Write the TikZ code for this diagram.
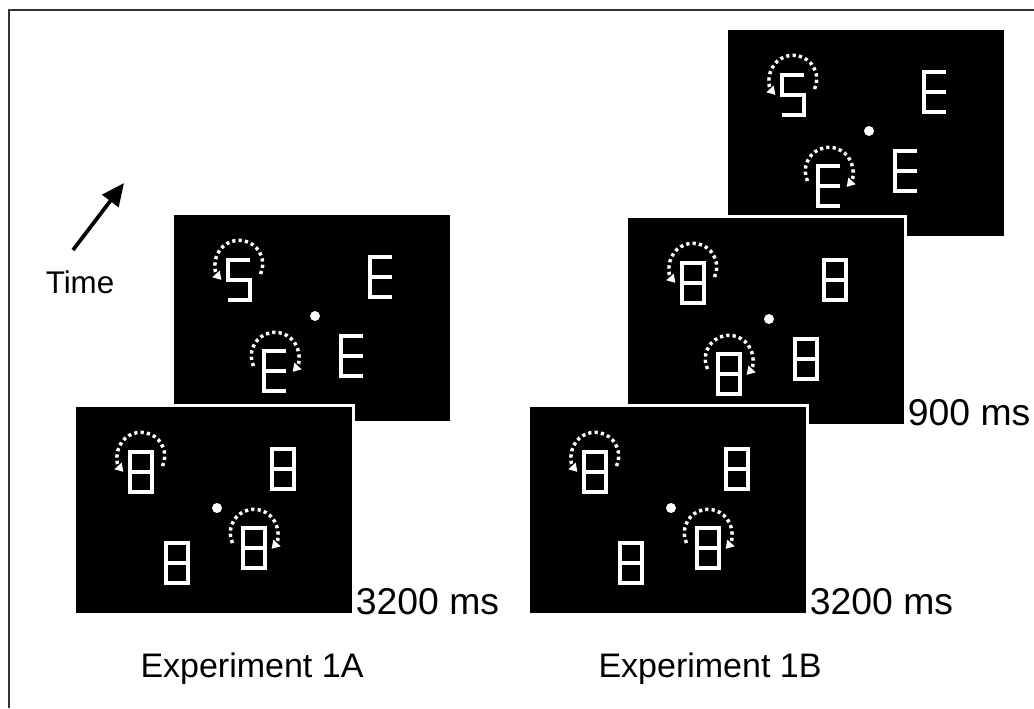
\documentclass[tikz,border=0pt]{standalone}
\usepackage{fontspec}
\setmainfont{Liberation Sans}
\usepackage{tikz}
\usetikzlibrary{arrows.meta, positioning}

\tikzset{
  screen/.style={fill=black, draw=white, line width=2.25pt, minimum width=209.25pt, minimum height=156.75pt, inner sep=0pt, outer sep=0pt, anchor=north west},
  seg/.style={white, line width=2.6pt},
  rot/.style={white, line width=2.6pt, dash pattern=on 2.4pt off 2.4pt, -{Triangle[length=6pt,width=7pt]}},
  mslbl/.style={font=\fontsize{28}{30}\selectfont, inner sep=0pt},
  explbl/.style={font=\fontsize{25.5}{28}\selectfont, inner sep=0pt},
  pics/eight/.style={code={\draw[seg] (0,0) rectangle (22,40) (0,20)--(22,20);}},
  pics/letE/.style={code={\draw[seg] (22,0)--(0,0)--(0,40)--(22,40) (0,20)--(22,20);}},
  pics/letS/.style={code={\draw[seg] (22,0)--(0,0)--(0,20)--(22,20)--(22,40)--(0,40);}},
  pics/ccw/.style={code={\draw[rot] ([shift={(-25:17.8pt)}]11,4) arc[start angle=-25,end angle=222,radius=17.8pt];}},
  pics/cw/.style={code={\draw[rot] ([shift={(205:17.8pt)}]11,5) arc[start angle=205,end angle=-42,radius=17.8pt];}},
}
% 画面の中身: 4つの文字, 時計回りの矢印の位置
\newcommand{\stimuli}[5]{%
  \pic at (56,47) {#1}; \pic at (198,44) {#2}; \pic at (92,138) {#3}; \pic at (169,123) {#4};
  \pic at (56,47) {ccw}; \pic at #5 {cw};
  \fill[white] (143,103) circle[radius=3.75pt];}

\begin{document}
\begin{tikzpicture}[x=0.75pt,y=-0.75pt]
        \useasboundingbox (0,0) rectangle (1034,708);
        \draw[black!80,line width=1.1pt] (9,708)--(9,10)--(1034,10); %枠
        % Experiment 1A
        \node[screen] (a2) at (172,213) {};
        \begin{scope}[shift={(a2.north west)}]\stimuli{letS}{letE}{letE}{letE}{(92,138)}\end{scope}
        \node[screen] (a1) at (74,405) {};
        \begin{scope}[shift={(a1.north west)}]\stimuli{eight}{eight}{eight}{eight}{(169,123)}\end{scope}
        \node[mslbl, anchor=base west] (a1ms) at ([xshift=2pt]a1.south east) {3200 ms};
        \node[explbl, anchor=base] (a1exp) at (252,677) {Experiment 1A};
        % Experiment 1B
        \node[screen] (b3) at (726,28) {};
        \begin{scope}[shift={(b3.north west)}]\stimuli{letS}{letE}{letE}{letE}{(92,138)}\end{scope}
        \node[screen] (b2) at (626,216) {};
        \begin{scope}[shift={(b2.north west)}]\stimuli{eight}{eight}{eight}{eight}{(92,138)}\end{scope}
        \node[mslbl, anchor=base west] (b2ms) at ([xshift=2pt]b2.south east) {900 ms};
        \node[screen] (b1) at (528,405) {};
        \begin{scope}[shift={(b1.north west)}]\stimuli{eight}{eight}{eight}{eight}{(169,123)}\end{scope}
        \node[mslbl, anchor=base west] (b1ms) at ([xshift=2pt]b1.south east) {3200 ms};
        \node[explbl, anchor=base] (b1exp) at (710,677) {Experiment 1B};
        % 時間の矢印
        \node[explbl, font=\fontsize{23.5}{26}\selectfont, anchor=base] (time) at (80,293) {Time};
        \coordinate (ts) at (73,250);
        \coordinate (te) at (124,183);
        \draw[-{Triangle[length=17pt,width=15pt]}, line width=2.8pt] (ts)--(te);
    \end{tikzpicture}
\end{document}
